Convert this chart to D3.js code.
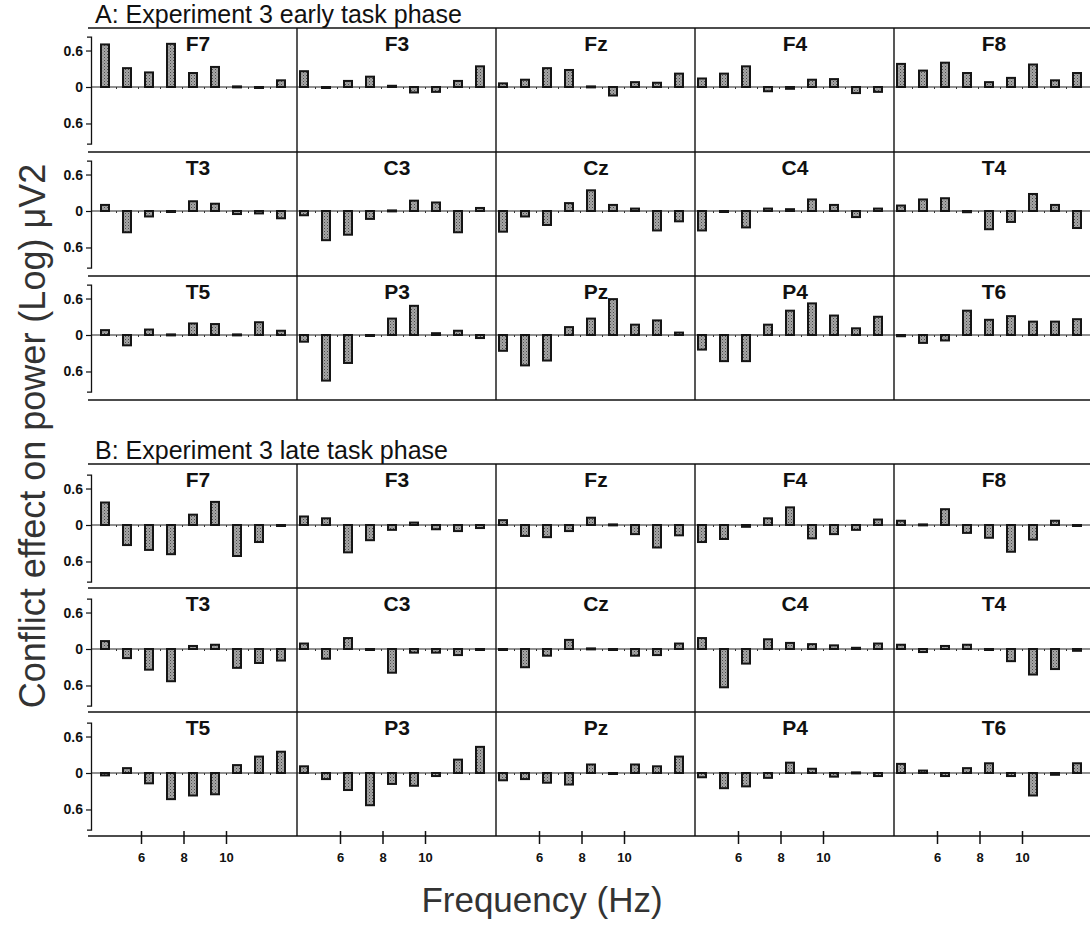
<!DOCTYPE html>
<html>
<head>
<meta charset="utf-8">
<script src="https://cdn.jsdelivr.net/npm/d3@7"></script>
<style>
  body { margin: 0; background: #fff; }
  svg { display: block; font-family: "Liberation Sans", Arial, sans-serif; }
</style>
</head>
<body>
<div id="chart"></div>
<script>
// Frequencies (Hz) of the nine bars in every panel
var freqs = [4, 5, 6, 7, 8, 9, 10, 11, 12];
var electrodes = ["F7", "F3", "Fz", "F4", "F8",
                  "T3", "C3", "Cz", "C4", "T4",
                  "T5", "P3", "Pz", "P4", "T6"];
var yTickValues = [-0.6, 0, 0.6];
var freqTickValues = [6, 8, 10];
var phaseTitles = ["A: Experiment 3 early task phase", "B: Experiment 3 late task phase"];

// Conflict effect per electrode (same order as electrodes)
var earlyPhase = [
  [0.70, 0.31, 0.24, 0.71, 0.23, 0.33, 0.01, 0.00, 0.11],
  [0.26, 0.00, 0.10, 0.17, 0.02, -0.09, -0.08, 0.10, 0.34],
  [0.06, 0.12, 0.31, 0.28, 0.01, -0.14, 0.08, 0.07, 0.22],
  [0.14, 0.22, 0.34, -0.07, -0.03, 0.12, 0.13, -0.10, -0.08],
  [0.38, 0.27, 0.40, 0.23, 0.08, 0.15, 0.37, 0.11, 0.23],
  [0.10, -0.35, -0.09, 0.00, 0.16, 0.12, -0.05, -0.04, -0.12],
  [-0.07, -0.48, -0.39, -0.13, 0.01, 0.17, 0.14, -0.35, 0.05],
  [-0.34, -0.09, -0.23, 0.13, 0.34, 0.10, 0.04, -0.32, -0.17],
  [-0.32, 0.00, -0.27, 0.04, 0.03, 0.19, 0.10, -0.10, 0.04],
  [0.09, 0.19, 0.21, -0.02, -0.30, -0.18, 0.28, 0.10, -0.28],
  [0.08, -0.17, 0.09, 0.01, 0.19, 0.18, 0.01, 0.21, 0.07],
  [-0.11, -0.75, -0.46, -0.01, 0.27, 0.48, 0.03, 0.07, -0.05],
  [-0.26, -0.50, -0.42, 0.13, 0.27, 0.59, 0.17, 0.24, 0.04],
  [-0.24, -0.43, -0.43, 0.17, 0.40, 0.52, 0.32, 0.11, 0.30],
  [-0.02, -0.13, -0.09, 0.40, 0.25, 0.31, 0.22, 0.22, 0.26]
];

var latePhase = [
  [0.37, -0.33, -0.41, -0.48, 0.17, 0.38, -0.51, -0.28, -0.01],
  [0.14, 0.11, -0.45, -0.25, -0.08, 0.04, -0.07, -0.10, -0.05],
  [0.08, -0.18, -0.20, -0.10, 0.12, 0.01, -0.15, -0.37, -0.17],
  [-0.28, -0.23, -0.03, 0.11, 0.29, -0.22, -0.15, -0.08, 0.09],
  [0.07, 0.01, 0.26, -0.13, -0.21, -0.44, -0.24, 0.07, 0.00],
  [0.13, -0.15, -0.34, -0.53, 0.05, 0.07, -0.31, -0.23, -0.19],
  [0.09, -0.16, 0.18, 0.00, -0.39, -0.06, -0.06, -0.10, -0.01],
  [0.00, -0.30, -0.11, 0.15, 0.01, -0.01, -0.11, -0.10, 0.09],
  [0.18, -0.63, -0.24, 0.16, 0.10, 0.08, 0.06, 0.02, 0.09],
  [0.07, -0.05, 0.05, 0.07, 0.00, -0.20, -0.42, -0.33, -0.03],
  [-0.04, 0.08, -0.17, -0.43, -0.37, -0.35, 0.13, 0.27, 0.35],
  [0.11, -0.10, -0.28, -0.53, -0.18, -0.21, -0.05, 0.22, 0.43],
  [-0.12, -0.10, -0.16, -0.19, 0.14, 0.00, 0.14, 0.11, 0.27],
  [-0.07, -0.25, -0.22, -0.08, 0.17, 0.07, -0.06, 0.01, -0.05],
  [0.15, 0.04, -0.05, 0.08, 0.16, -0.05, -0.37, -0.03, 0.16]
];

// SVG size
var svgWidth = 1090;
var svgHeight = 929;

var svg = d3.select("#chart")
  .append("svg")
  .attr("width", svgWidth)
  .attr("height", svgHeight);

// stipple fill for the bars
var pat = svg.append("defs").append("pattern")
  .attr("id", "stipple")
  .attr("width", 3).attr("height", 3)
  .attr("patternUnits", "userSpaceOnUse");
pat.append("rect").attr("width", 3).attr("height", 3).attr("fill", "#a6a6a6");
pat.append("rect").attr("width", 1).attr("height", 1).attr("fill", "#4a4a4a");
pat.append("rect").attr("x", 1.5).attr("y", 1.5).attr("width", 1).attr("height", 1).attr("fill", "#6a6a6a");

// panel grid
var colWidth = 199;
var colScale = d3.scaleBand().domain(d3.range(5)).range([98, 98 + 5 * colWidth]);
var gridLeft = 88;
var axisX = 91;
var unitPx = 60.8;          // pixels per log unit
var yDomain = [-0.93, 0.83];

var sections = [
  { data: earlyPhase, title: phaseTitles[0], top: 28, rowH: 124, zeroOff: 59, titleY: 23 },
  { data: latePhase,  title: phaseTitles[1], top: 464, rowH: 124, zeroOff: 61, titleY: 459 }
];

// bar centres and the printed frequency ticks inside one column
var xBar = d3.scaleLinear().domain([4, 12]).range([7, 183]);
var xTick = d3.scaleLinear().domain([6, 10]).range([43, 128]);
var barWidth = 8;

sections.forEach(function(sec) {
  var g = svg.append("g");

  // section title
  g.append("text")
    .attr("x", 95)
    .attr("y", sec.titleY)
    .attr("font-size", 25)
    .attr("fill", "#111")
    .text(sec.title);

  // horizontal frame lines
  g.selectAll(".hline")
    .data(d3.range(4))
    .enter()
    .append("line")
    .attr("x1", gridLeft)
    .attr("x2", svgWidth)
    .attr("y1", r => sec.top + r * sec.rowH)
    .attr("y2", r => sec.top + r * sec.rowH)
    .attr("stroke", "#111")
    .attr("stroke-width", 1.4);

  // vertical column dividers
  g.selectAll(".vline")
    .data(d3.range(1, 5))
    .enter()
    .append("line")
    .attr("x1", c => colScale(c))
    .attr("x2", c => colScale(c))
    .attr("y1", sec.top)
    .attr("y2", sec.top + 3 * sec.rowH)
    .attr("stroke", "#111")
    .attr("stroke-width", 1.4);

  sec.data.forEach(function(vals, idx) {
    var row = Math.floor(idx / 5);
    var col = idx % 5;
    var rowTop = sec.top + row * sec.rowH;
    var zeroY = rowTop + sec.zeroOff;
    var x0 = colScale(col);

    var y = d3.scaleLinear()
      .domain(yDomain)
      .range([zeroY - yDomain[0] * unitPx, zeroY - yDomain[1] * unitPx]);

    var panel = g.append("g").attr("transform", `translate(${x0}, 0)`);

    // zero baseline with small ticks
    var lineStart = col === 0 ? axisX - x0 : 0;
    panel.append("line")
      .attr("x1", lineStart)
      .attr("x2", colWidth)
      .attr("y1", zeroY)
      .attr("y2", zeroY)
      .attr("stroke", "#222")
      .attr("stroke-width", 1.1);

    panel.append("g")
      .attr("transform", `translate(0, ${zeroY})`)
      .call(d3.axisBottom(xBar).tickValues(d3.range(4.5, 12, 1)).tickSize(2).tickFormat(""))
      .call(a => a.select(".domain").remove())
      .selectAll("line").attr("stroke", "#333");

    // bars
    panel.selectAll("rect.bar")
      .data(vals)
      .enter()
      .append("rect")
      .attr("class", "bar")
      .attr("x", (d, i) => xBar(freqs[i]) - barWidth / 2)
      .attr("y", d => y(Math.max(0, d)))
      .attr("width", barWidth)
      .attr("height", d => Math.max(1, Math.abs(y(d) - y(0))))
      .attr("fill", "url(#stipple)")
      .attr("stroke", "#151515")
      .attr("stroke-width", 2);

    // electrode label
    panel.append("text")
      .attr("x", 100)
      .attr("y", rowTop + 23)
      .attr("text-anchor", "middle")
      .attr("font-size", 21)
      .attr("font-weight", "bold")
      .attr("fill", "#111")
      .text(electrodes[idx]);

    // y axis on the first column
    if (col === 0) {
      var yAxis = d3.axisLeft(y)
        .tickValues(yTickValues)
        .tickSize(5)
        .tickSizeOuter(4)
        .tickFormat(d => d === 0 ? "0" : Math.abs(d).toFixed(1));
      var ya = g.append("g")
        .attr("transform", `translate(${axisX}, 0)`)
        .call(yAxis);
      ya.select(".domain").attr("stroke", "#111").attr("stroke-width", 1.3);
      ya.selectAll("line").attr("stroke", "#111").attr("stroke-width", 1.2);
      ya.selectAll("text")
        .attr("font-size", 14)
        .attr("font-weight", "bold")
        .attr("font-family", "Liberation Sans, Arial, sans-serif")
        .attr("fill", "#111");
    }
  });
});

// frequency ticks under the bottom row
var bottomY = sections[1].top + 3 * sections[1].rowH;
d3.range(5).forEach(function(c) {
  var xa = svg.append("g")
    .attr("transform", `translate(${colScale(c)}, ${bottomY})`)
    .call(d3.axisBottom(xTick).tickValues(freqTickValues).tickSize(8).tickPadding(9)
      .tickFormat(d3.format("d")));
  xa.select(".domain").remove();
  xa.selectAll("line").attr("y1", -5).attr("stroke", "#111").attr("stroke-width", 1.5);
  xa.selectAll("text")
    .attr("font-size", 13)
    .attr("font-weight", "bold")
    .attr("font-family", "Liberation Sans, Arial, sans-serif")
    .attr("fill", "#111");
});

// axis titles
svg.append("text")
  .attr("x", 542)
  .attr("y", 912)
  .attr("text-anchor", "middle")
  .attr("font-size", 35)
  .attr("fill", "#333")
  .text("Frequency (Hz)");

svg.append("text")
  .attr("transform", "translate(45, 436) rotate(-90)")
  .attr("text-anchor", "middle")
  .attr("font-size", 36)
  .attr("fill", "#333")
  .text("Conflict effect on power (Log) \u03bcV2");
</script>
</body>
</html>
